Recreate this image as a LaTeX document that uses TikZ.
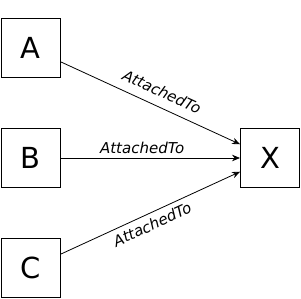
\documentclass[tikz,border=0pt]{standalone}
\usepackage{fontspec}
\setmainfont{DejaVu Sans}
\usetikzlibrary{arrows.meta}

\begin{document}
\begin{tikzpicture}[x=1pt, y=-1pt,
    objbox/.style={draw, line width=0.9pt, minimum size=59pt, inner sep=0pt,
        font=\fontsize{29}{32}\selectfont},
    relline/.style={line width=0.8pt, -{Stealth[length=8pt, width=6.5pt]}},
    rellabel/.style={font=\fontsize{15}{17}\selectfont\itshape}]

\useasboundingbox (0,0) rectangle (301,299);

\foreach \y/\name in {48/A,158/B,268/C} {
    \node (\name) at (30.5,\y) [objbox] {\name};
}
\node (X) at (270,158) [objbox] {X};

\draw[relline] (A) -- (X) node[rellabel, pos=0.53, sloped, above, inner sep=9pt] {AttachedTo};
\draw[relline] (B) -- (X) node[rellabel, pos=0.455, above, inner sep=4pt] {AttachedTo};
\draw[relline] (C) -- (X) node[rellabel, pos=0.485, sloped, below, inner sep=5pt] {AttachedTo};
\end{tikzpicture}
\end{document}
